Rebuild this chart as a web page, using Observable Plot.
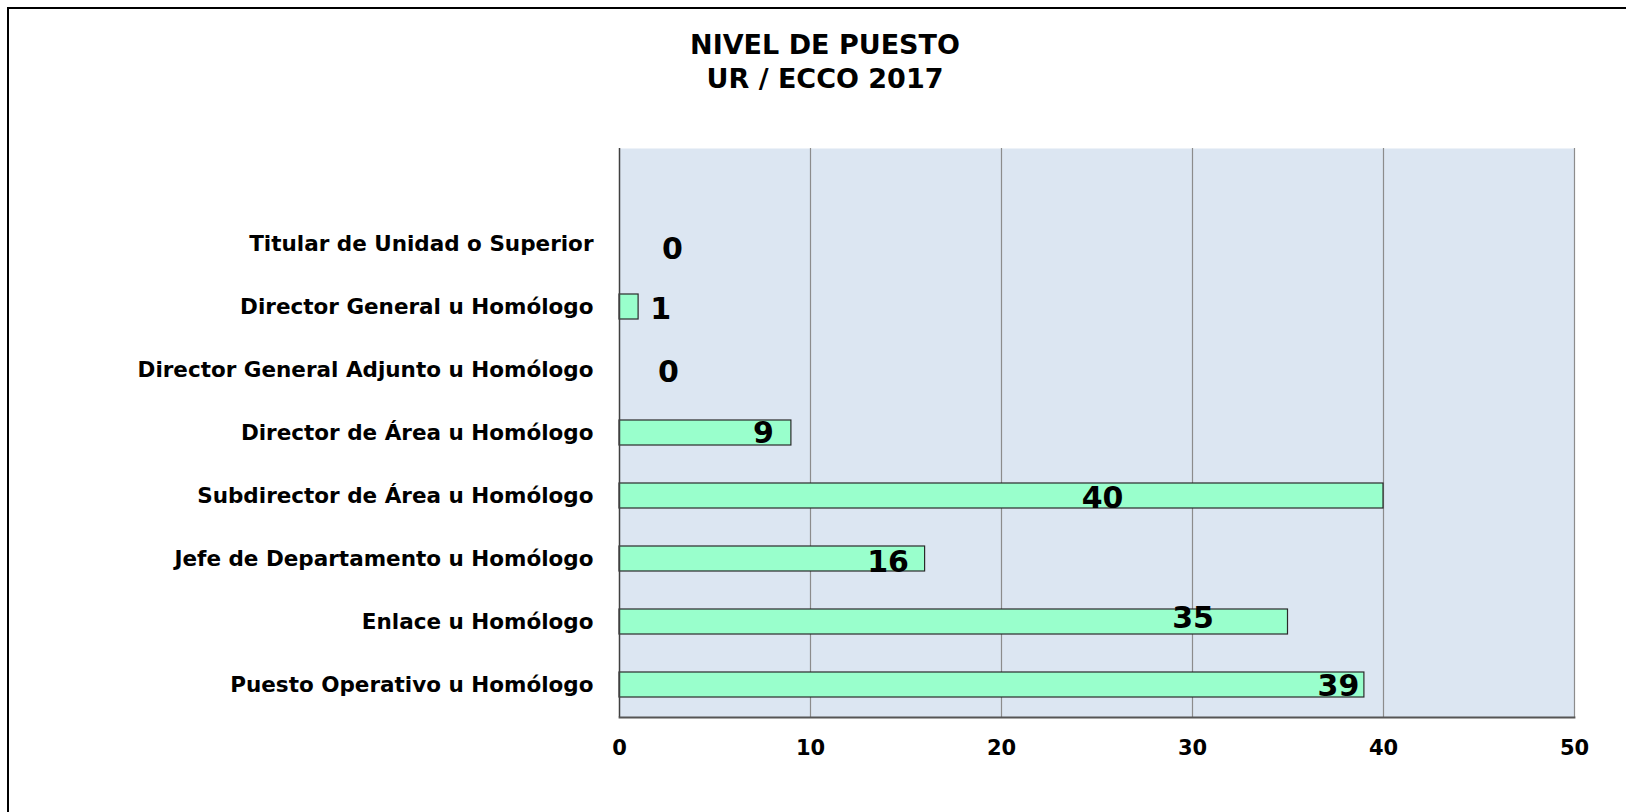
<!DOCTYPE html>
<html>
<head>
<meta charset="utf-8">
<script src="https://cdn.jsdelivr.net/npm/d3@7"></script>
<script src="https://cdn.jsdelivr.net/npm/@observablehq/plot@0.6"></script>
<style>
  html, body { margin: 0; padding: 0; background: #fff; overflow: hidden; }
  #wrap { position: relative; width: 1626px; height: 812px; overflow: hidden; }
  #chart svg { background: transparent !important; }
  #border { position: absolute; left: 7px; top: 7px; width: 1700px; height: 900px; border: 2px solid #000; box-sizing: border-box; pointer-events: none; }
  #title { position: absolute; left: 0; width: 1650px; top: 28px; text-align: center; font-family: "DejaVu Sans", sans-serif; font-weight: bold; font-size: 27px; line-height: 34px; color: #000; }
</style>
</head>
<body>
<div id="wrap">
  <div id="chart" style="position:absolute;left:0;top:0"></div>
  <div id="border"></div>
  <div id="title">NIVEL DE PUESTO<br>UR / ECCO 2017</div>
</div>
<script>
const categories = [
  "Titular de Unidad o Superior",
  "Director General u Homólogo",
  "Director General Adjunto u Homólogo",
  "Director de Área u Homólogo",
  "Subdirector de Área u Homólogo",
  "Jefe de Departamento u Homólogo",
  "Enlace u Homólogo",
  "Puesto Operativo u Homólogo"
];
const values = [0, 1, 0, 9, 40, 16, 35, 39];
const xTicks = [0, 10, 20, 30, 40, 50];

// label placement offsets (px) relative to bar end, as in the original
const labelDx = [53, 22, 49, -28, -281, -37, -95, -26];
const labelDy = [5, 2, 2, 0, 2, 3, -4, 1.5];

const data = categories.map((c, i) => ({cat: c, value: values[i], i}));

const labelMarks = data.map(d => Plot.text([d], {
  x: "value", y: "cat", text: d => String(d.value),
  dx: labelDx[d.i], dy: labelDy[d.i],
  fontSize: 30, fontWeight: "bold", fill: "#000"
}));

const chart = Plot.plot({
  width: 1626,
  height: 812,
  marginTop: 148,
  marginLeft: 619,
  marginRight: 52,
  marginBottom: 95,
  style: {fontFamily: "DejaVu Sans, sans-serif", fontWeight: "bold", color: "#000", background: "transparent"},
  x: {domain: [0, 50], label: null},
  y: {domain: categories, range: [211, 717], paddingInner: 0.6, paddingOuter: 0.3, label: null},
  marks: [
    Plot.frame({fill: "#DCE6F2", stroke: null}),
    Plot.ruleX(xTicks.slice(1), {stroke: "#8c8c8c", strokeWidth: 1.2}),
    Plot.barX(data, {x: "value", y: "cat", fill: "#99FFCC", stroke: "#2a2a2a", strokeWidth: 1.2}),
    Plot.ruleX([0], {stroke: "#404040", strokeWidth: 1.5}),
    Plot.frame({anchor: "bottom", stroke: "#555", strokeWidth: 1.8}),
    Plot.axisY({tickSize: 0, tickPadding: 26, fontSize: 21.5, fontWeight: "bold", label: null}),
    Plot.axisX(xTicks, {tickSize: 0, tickPadding: 23, fontSize: 21, fontWeight: "bold", label: null}),
    ...labelMarks
  ]
});
document.getElementById("chart").appendChild(chart);
</script>
</body>
</html>
